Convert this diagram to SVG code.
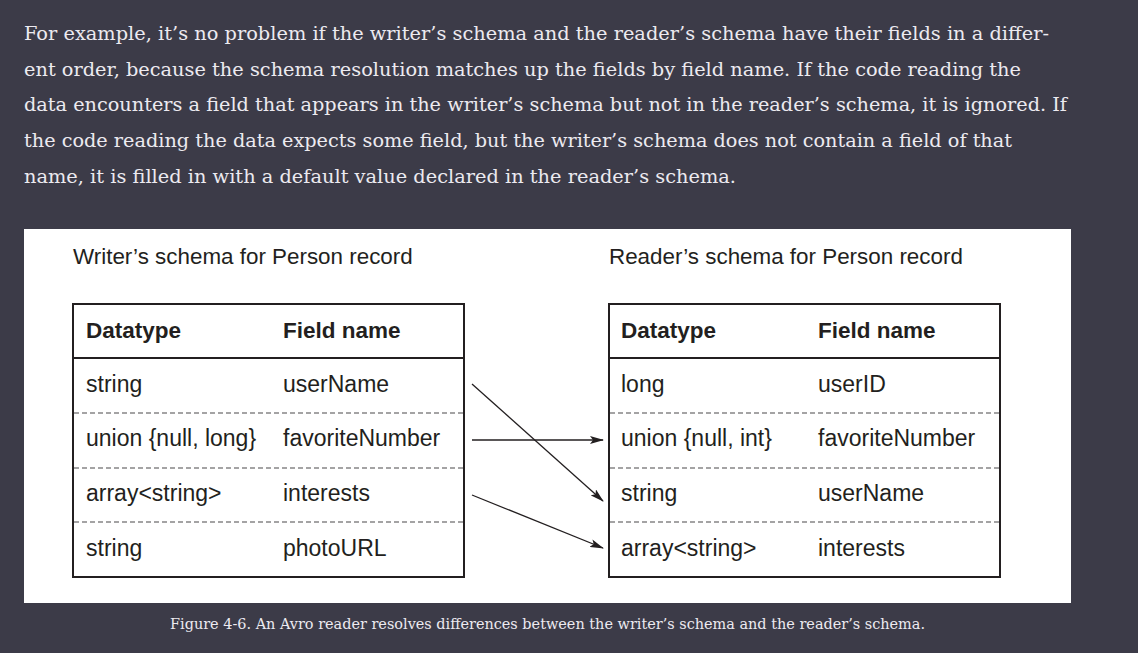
<svg xmlns="http://www.w3.org/2000/svg" width="1138" height="653" viewBox="0 0 1138 653">
<defs>
<style>
.body{font-family:"DejaVu Serif","Liberation Serif",serif;font-size:19px;fill:#eceaf0}
.cap{font-family:"DejaVu Serif","Liberation Serif",serif;font-size:14.5px;fill:#eceaf0}
.t{font-family:"Liberation Sans","Noto Sans",sans-serif;font-size:22.4px;fill:#231f20}
.c{font-family:"Liberation Sans","Noto Sans",sans-serif;font-size:23px;fill:#231f20}
.h{font-family:"Liberation Sans","Noto Sans",sans-serif;font-size:22.5px;font-weight:bold;fill:#231f20}
.box{fill:none;stroke:#231f20;stroke-width:2}
.sep{stroke:#231f20;stroke-width:2}
.dash{stroke:#4a484b;stroke-width:1.2;stroke-dasharray:5 3}
.arr{stroke:#231f20;stroke-width:1.3;fill:none;marker-end:url(#ah)}
</style>
<marker id="ah" viewBox="0 0 14 8" refX="13" refY="4" markerWidth="14" markerHeight="8" markerUnits="userSpaceOnUse" orient="auto">
<path d="M0,0 L14,4 L0,8 L3,4 z" fill="#231f20"/>
</marker>
</defs>
<rect width="1138" height="653" fill="#3c3b48"/>
<g id="paragraph">
<text class="body" x="24" y="40" textLength="1025" lengthAdjust="spacingAndGlyphs">For example, it’s no problem if the writer’s schema and the reader’s schema have their fields in a differ-</text>
<text class="body" x="24" y="76" textLength="997" lengthAdjust="spacingAndGlyphs">ent order, because the schema resolution matches up the fields by field name. If the code reading the</text>
<text class="body" x="24" y="111" textLength="1043" lengthAdjust="spacingAndGlyphs">data encounters a field that appears in the writer’s schema but not in the reader’s schema, it is ignored. If</text>
<text class="body" x="24" y="147" textLength="988" lengthAdjust="spacingAndGlyphs">the code reading the data expects some field, but the writer’s schema does not contain a field of that</text>
<text class="body" x="24" y="183" textLength="712" lengthAdjust="spacingAndGlyphs">name, it is filled in with a default value declared in the reader’s schema.</text>
</g>
<rect x="24" y="229" width="1047" height="374" fill="#ffffff"/>
<g id="writer">
<text class="t" x="73" y="264">Writer’s schema for Person record</text>
<rect class="box" x="73" y="304" width="391" height="273"/>
<line class="sep" x1="73" y1="358" x2="464" y2="358"/>
<line class="dash" x1="74" y1="413" x2="463" y2="413"/>
<line class="dash" x1="74" y1="468" x2="463" y2="468"/>
<line class="dash" x1="74" y1="522" x2="463" y2="522"/>
<text class="h" x="86" y="338">Datatype</text>
<text class="h" x="283" y="338">Field name</text>
<text class="c" x="86" y="392">string</text>
<text class="c" x="283" y="392">userName</text>
<text class="c" x="86" y="446">union {null, long}</text>
<text class="c" x="283" y="446">favoriteNumber</text>
<text class="c" x="86" y="501">array&lt;string&gt;</text>
<text class="c" x="283" y="501">interests</text>
<text class="c" x="86" y="556">string</text>
<text class="c" x="283" y="556">photoURL</text>
</g>
<g id="reader">
<text class="t" x="609" y="264">Reader’s schema for Person record</text>
<rect class="box" x="609" y="304" width="391" height="273"/>
<line class="sep" x1="609" y1="358" x2="1000" y2="358"/>
<line class="dash" x1="610" y1="413" x2="999" y2="413"/>
<line class="dash" x1="610" y1="468" x2="999" y2="468"/>
<line class="dash" x1="610" y1="522" x2="999" y2="522"/>
<text class="h" x="621" y="338">Datatype</text>
<text class="h" x="818" y="338">Field name</text>
<text class="c" x="621" y="392">long</text>
<text class="c" x="818" y="392">userID</text>
<text class="c" x="621" y="446">union {null, int}</text>
<text class="c" x="818" y="446">favoriteNumber</text>
<text class="c" x="621" y="501">string</text>
<text class="c" x="818" y="501">userName</text>
<text class="c" x="621" y="556">array&lt;string&gt;</text>
<text class="c" x="818" y="556">interests</text>
</g>
<g id="connectors">
<line class="arr" x1="472" y1="384" x2="603" y2="501"/>
<line class="arr" x1="472" y1="440" x2="603" y2="440"/>
<line class="arr" x1="472" y1="495" x2="603" y2="548"/>
</g>
<g id="caption">
<text class="cap" x="170" y="629" textLength="755" lengthAdjust="spacingAndGlyphs">Figure 4-6. An Avro reader resolves differences between the writer’s schema and the reader’s schema.</text>
</g>
</svg>
